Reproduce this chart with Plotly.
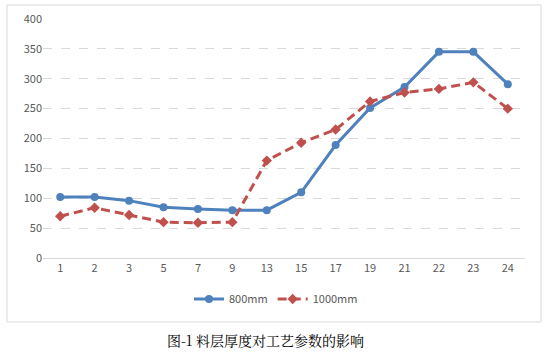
import plotly.graph_objects as go

categories = ["1", "2", "3", "5", "7", "9", "13", "15", "17", "19", "21", "22", "23", "24"]
s800 = [102, 102, 96, 85, 82, 80, 80, 110, 189, 251, 286, 345, 345, 291]
s1000 = [70, 84, 72, 60, 59, 60, 163, 193, 215, 262, 277, 283, 294, 250]
yticks = [0, 50, 100, 150, 200, 250, 300, 350, 400]

L, R, T, B = 43, 26, 19, 94
W, H = 551, 352
pw = W - L - R
ph = H - T - B

def px(x):
    return (x - L) / pw

def py(y):
    return (H - B - y) / ph

fig = go.Figure()
fig.add_trace(go.Scatter(x=categories, y=s800, name="800mm", mode="lines+markers",
                         line=dict(color="#4f81bd", width=3),
                         marker=dict(symbol="circle", size=8, color="#4f81bd")))
fig.add_trace(go.Scatter(x=categories, y=s1000, name="1000mm", mode="lines+markers",
                         line=dict(color="#c0504d", width=3, dash="9px,5px"),
                         marker=dict(symbol="diamond", size=8, color="#c0504d")))

fig.update_layout(
    width=W, height=H,
    margin=dict(l=L, r=R, t=T, b=B, autoexpand=False),
    paper_bgcolor="white", plot_bgcolor="white",
    font=dict(family="Noto Sans CJK SC, Liberation Sans, sans-serif", size=11, color="#595959"),
    xaxis=dict(type="category", range=[-0.5, len(categories) - 0.5], showgrid=False, showline=True,
               linecolor="#d9d9d9", linewidth=1,
               ticks="", tickfont=dict(size=11, color="#595959"), fixedrange=True, automargin=False),
    yaxis=dict(range=[0, 400], tickvals=yticks, showgrid=True, gridcolor="#d9d9d9",
               griddash="dash", gridwidth=1, zeroline=False, showline=False,
               ticks="", tickfont=dict(size=11, color="#595959"), fixedrange=True, automargin=False),
    legend=dict(orientation="h", x=px(276), xanchor="center", y=py(299), yanchor="middle",
                font=dict(size=11, color="#595959"), itemwidth=30),
    showlegend=True,
)

fig.add_shape(type="rect", xref="paper", yref="paper",
              x0=px(7), x1=px(541), y0=py(322), y1=py(5),
              line=dict(color="#d9d9d9", width=1), fillcolor="rgba(0,0,0,0)", layer="below")

fig.add_annotation(text="图-1 料层厚度对工艺参数的影响", xref="paper", yref="paper",
                   x=px(265), y=py(340), xanchor="center", yanchor="middle", showarrow=False,
                   font=dict(family="Noto Serif CJK SC, Noto Sans CJK SC, serif", size=14, color="#000000"))

fig.write_html("out.html")
